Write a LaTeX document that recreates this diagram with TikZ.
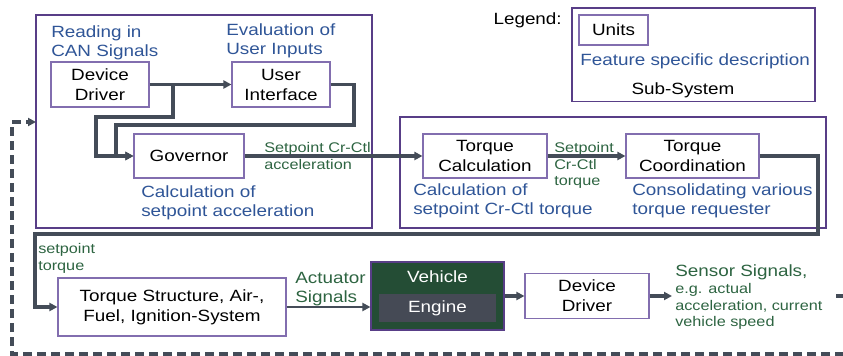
\documentclass[tikz,border=0pt]{standalone}
\usepackage{fontspec}
\setmainfont{Liberation Sans}[FakeStretch=1.16]
\usetikzlibrary{arrows.meta}
\definecolor{subpurple}{RGB}{88,62,135}
\definecolor{unitpurple}{RGB}{130,110,175}
\definecolor{descblue}{RGB}{47,85,151}
\definecolor{siggreen}{RGB}{45,100,65}
\definecolor{linegray}{RGB}{68,76,88}
\definecolor{vehgreen}{RGB}{36,77,53}
\definecolor{enggray}{RGB}{69,74,85}
\tikzset{
  plain/.style={inner sep=0pt, font=\fontsize{12.2}{14.3}\selectfont},
  unitbox/.style={draw=unitpurple, line width=0.8pt, fill=white, inner sep=0pt, align=center, font=\fontsize{12.2}{15}\selectfont},
  subsys/.style={draw=subpurple, line width=1.2pt},
  descr/.style={text=descblue, inner sep=0pt, anchor=north west, align=left, font=\fontsize{12.2}{14.3}\selectfont},
  sigtxt/.style={text=siggreen, inner sep=0pt, anchor=north west, align=left, font=\fontsize{12.2}{14.3}\selectfont},
  sigsmall/.style={text=siggreen, inner sep=0pt, anchor=north west, align=left, font=\fontsize{10.5}{12.5}\selectfont},
  flow/.style={draw=linegray, line width=2.4pt, -{Triangle[length=6pt,width=6pt]}},
  fback/.style={draw=linegray, line width=2.6pt, dash pattern=on 7pt off 3.5pt, -{Triangle[length=6pt,width=6pt]}},
}
\begin{document}
\begin{tikzpicture}[x=0.75pt,y=-0.75pt]
\useasboundingbox (0,0) rectangle (843,356);
\draw[subsys] (36,15) rectangle (372,228);
\draw[subsys] (400,117) rectangle (826,228);
\draw[subsys] (572,8) rectangle (815,101.5);
\node[unitbox, minimum width=73.5pt, minimum height=33.75pt] (dd1) at (100,84.5) {Device\\Driver};
\node[unitbox, minimum width=73.5pt, minimum height=33.75pt] (ui) at (281,84.5) {User\\Interface};
\node[unitbox, minimum width=82.5pt, minimum height=33pt] (gov) at (189,156) {Governor};
\node[unitbox, minimum width=93pt, minimum height=33pt] (tc) at (485,156) {Torque\\Calculation};
\node[unitbox, minimum width=99.75pt, minimum height=33pt] (tco) at (692.5,156) {Torque\\Coordination};
\node[unitbox, minimum width=171pt, minimum height=43.5pt] (tsa) at (172,307) {Torque Structure, Air-,\\Fuel, Ignition-System};
\node[unitbox, minimum width=93pt, minimum height=33.75pt] (dd2) at (587,296) {Device\\Driver};
\node[unitbox, minimum width=51.75pt, minimum height=22.5pt] (units) at (613.5,30) {Units};
\node[draw=subpurple, line width=0.8pt, fill=vehgreen, minimum width=99.75pt, minimum height=51pt, inner sep=0pt] (veh) at (437.5,296) {};
\node[plain, fill=enggray, minimum width=87.75pt, minimum height=21pt, text=white] (eng) at (437.5,308) {Engine};
\node[plain, text=white] (vehtxt) at (437.5,277) {Vehicle};
\node[descr] (rdtxt) at (51,25) {Reading in\\CAN Signals};
\node[descr] (evtxt) at (226,23) {Evaluation of\\User Inputs};
\node[descr] (govtxt) at (141,185) {Calculation of\\setpoint acceleration};
\node[descr] (tctxt) at (413,183) {Calculation of\\setpoint Cr-Ctl torque};
\node[descr] (tcotxt) at (632,183) {Consolidating various\\torque requester};
\node[plain, anchor=north east] (legtxt) at (562,12) {Legend:};
\node[descr] (legdesc) at (580,53) {Feature specific description};
\node[plain, anchor=north] (legsub) at (683,82) {Sub-System};
\node[sigsmall] (lab1) at (264,142) {Setpoint Cr-Ctl\\acceleration};
\node[sigsmall] (lab2) at (554,142) {Setpoint\\Cr-Ctl\\torque};
\node[sigsmall] (lab3) at (38,243) {setpoint\\torque};
\node[sigtxt] (acttxt) at (295,272) {Actuator\\Signals};
\node[sigtxt] (senstxt) at (675,264) {Sensor Signals,};
\node[sigsmall] (sensdet) at (675,283) {e.g. actual\\acceleration, current\\vehicle speed};
\coordinate (br) at (173,84.5);
\coordinate (k1) at (96,117);
\coordinate (k2) at (354,125);
\coordinate (k3) at (116,125);
\coordinate (k4) at (818,234);
\coordinate (k5) at (35,234);
\coordinate (s1) at (672,296);
\coordinate (f0) at (836,296);
\coordinate (f1) at (860,296);
\coordinate (f2) at (12,354);
\coordinate (f3) at (36,122);
\draw[flow] (dd1) -- (ui);
\draw[flow] (br) |- (k1) |- (gov);
\draw[flow] (ui) -| (k2) -- (k3) |- (gov);
\draw[flow] (gov) -- (tc);
\draw[flow] (tc) -- (tco);
\draw[flow] (tco) -| (k4) -- (k5) |- (tsa);
\draw[flow, line width=1.8pt] (tsa) -- (tsa -| veh.west);
\draw[flow] (veh) -- (dd2);
\draw[flow] (dd2) -- (s1);
\draw[fback] (f0) -- (f1) |- (f2) |- (f3);
\end{tikzpicture}
\end{document}
